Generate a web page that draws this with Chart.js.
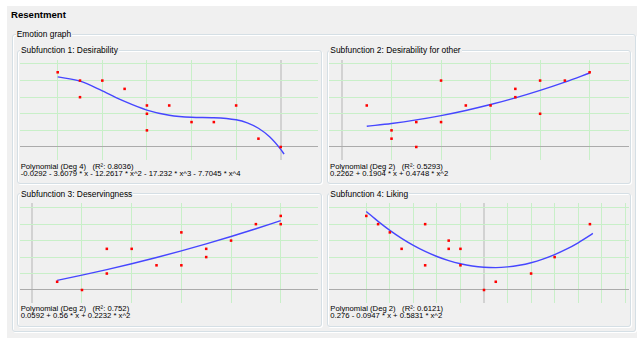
<!DOCTYPE html>
<html>
<head>
<meta charset="utf-8">
<script src="https://cdn.jsdelivr.net/npm/chart.js@4.4.1/dist/chart.umd.min.js"></script>
<style>
  body { margin: 0; background: #fff; width: 637px; height: 338px; overflow: hidden; position: relative; font-family: "Liberation Sans", Arial, sans-serif; color: #000; }
  #form { position: absolute; left: 7px; top: 6px; width: 630px; height: 332px; background: #f0f0f0; }
  .box { position: absolute; box-sizing: border-box; border: 1px solid #d5dfe5; border-radius: 3px; box-shadow: inset 1px 1px 0 #fff, 1px 1px 0 #fff; }
  .cap { position: absolute; background: #f0f0f0; font-size: 8.4px; line-height: 10px; padding: 0 1px; white-space: nowrap; }
  .head { position: absolute; font-size: 9.6px; font-weight: bold; line-height: 12px; white-space: nowrap; }
  .fit { position: absolute; font-size: 7.7px; line-height: 6.8px; white-space: pre; }
  canvas { position: absolute; }
</style>
</head>
<body>
<div id="form"></div>
<div class="head" style="left:11px; top:8.6px;">Resentment</div>

<div class="box" style="left:12px; top:34px; width:624px; height:298px;"></div>
<div class="cap" style="left:15.7px; top:29px;">Emotion graph</div>

<div class="box" style="left:17px; top:50px; width:305px; height:134px;"></div>
<div class="box" style="left:327px; top:50px; width:304px; height:134px;"></div>
<div class="box" style="left:17px; top:193px; width:305px; height:134px;"></div>
<div class="box" style="left:327px; top:193px; width:304px; height:134px;"></div>

<div class="cap" id="t1" style="left:20px; top:45.4px;"></div>
<div class="cap" id="t2" style="left:329.3px; top:45.4px;"></div>
<div class="cap" id="t3" style="left:20px; top:188.8px;"></div>
<div class="cap" id="t4" style="left:329.3px; top:188.8px;"></div>

<canvas id="c1" width="298" height="100" style="left:20px; top:60px;"></canvas>
<canvas id="c2" width="300" height="100" style="left:329px; top:60px;"></canvas>
<canvas id="c3" width="298" height="100" style="left:20px; top:203px;"></canvas>
<canvas id="c4" width="300" height="100" style="left:329px; top:203px;"></canvas>

<div class="fit" id="f1" style="left:20.7px; top:164.4px;"></div>
<div class="fit" id="f2" style="left:330px; top:164.4px;"></div>
<div class="fit" id="f3" style="left:20.7px; top:306.1px;"></div>
<div class="fit" id="f4" style="left:330.3px; top:306.1px;"></div>

<script>
const titles = ['Subfunction 1: Desirability', 'Subfunction 2: Desirability for other', 'Subfunction 3: Deservingness', 'Subfunction 4: Liking'];
const fitLabels = ['Polynomial (Deg 4)   (R\u00b2: 0.8036)', 'Polynomial (Deg 2)   (R\u00b2: 0.5293)', 'Polynomial (Deg 2)   (R\u00b2: 0.752)', 'Polynomial (Deg 2)   (R\u00b2: 0.6121)'];
const formulas = [
  '-0.0292 - 3.6079 * x - 12.2617 * x^2 - 17.232 * x^3 - 7.7045 * x^4',
  '0.2262 + 0.1904 * x + 0.4748 * x^2',
  '0.0592 + 0.56 * x + 0.2232 * x^2',
  '0.276 - 0.0947 * x + 0.5831 * x^2'
];

// subfunction 1: desirability
const desX = [-1, -0.9, -0.9, -0.8, -0.7, -0.6, -0.6, -0.6, -0.5, -0.4, -0.3, -0.2, -0.1, 0];
const desY = [0.9, 0.8, 0.6, 0.8, 0.7, 0.5, 0.4, 0.2, 0.5, 0.3, 0.3, 0.5, 0.1, 0];
const desFitX = [-1, -0.9, -0.8, -0.7, -0.6, -0.5, -0.4, -0.3, -0.2, -0.15, -0.1, -0.05, 0, 0.015];
const desFitY = [0.8445, 0.7929, 0.6766, 0.5489, 0.4449, 0.3818, 0.3577, 0.3525, 0.3275, 0.2904, 0.2254, 0.1227, -0.0292, -0.0862];

// subfunction 2: desirability for other
const othX = [0.1, 0.2, 0.2, 0.3, 0.3, 0.4, 0.4, 0.5, 0.6, 0.7, 0.7, 0.8, 0.8, 0.9, 1];
const othY = [0.5, 0.2, 0.1, 0.3, 0, 0.8, 0.3, 0.5, 0.5, 0.7, 0.6, 0.8, 0.4, 0.8, 0.9];
const othFitX = [0.1, 0.2, 0.3, 0.4, 0.5, 0.6, 0.7, 0.8, 0.9, 1];
const othFitY = [0.25, 0.2833, 0.3261, 0.3783, 0.4401, 0.5114, 0.5921, 0.6824, 0.7822, 0.8914];

// subfunction 3: deservingness
const serX = [0.1, 0.2, 0.3, 0.3, 0.4, 0.5, 0.6, 0.6, 0.7, 0.7, 0.8, 0.9, 1, 1];
const serY = [0.1, 0, 0.5, 0.2, 0.5, 0.3, 0.7, 0.3, 0.5, 0.4, 0.6, 0.8, 0.9, 0.8];
const serFitX = [0.1, 0.2, 0.3, 0.4, 0.5, 0.6, 0.7, 0.8, 0.9, 1];
const serFitY = [0.1174, 0.1801, 0.2473, 0.3189, 0.395, 0.4756, 0.5606, 0.6501, 0.744, 0.8424];

// subfunction 4: liking
const likX = [-1, -0.9, -0.8, -0.7, -0.5, -0.5, -0.3, -0.3, -0.2, -0.2, 0, 0.1, 0.4, 0.6, 0.9];
const likY = [0.9, 0.8, 0.7, 0.5, 0.8, 0.3, 0.6, 0.5, 0.5, 0.3, 0, 0.1, 0.2, 0.4, 0.8];
const likFitX = [-1, -0.9, -0.8, -0.7, -0.6, -0.5, -0.4, -0.3, -0.2, -0.1, 0, 0.1, 0.2, 0.3, 0.4, 0.5, 0.6, 0.7, 0.8, 0.9, 0.925];
const likFitY = [0.9538, 0.8335, 0.7249, 0.628, 0.5427, 0.4691, 0.4072, 0.3569, 0.3183, 0.2913, 0.276, 0.2724, 0.2804, 0.3001, 0.3314, 0.3744, 0.4291, 0.4954, 0.5734, 0.6631, 0.687];

const negTicks = [-1, -0.8, -0.6, -0.4, -0.2, 0];
const posTicks = [0, 0.2, 0.4, 0.6, 0.8, 1];
const wideTicks = [-1, -0.8, -0.6, -0.4, -0.2, 0, 0.2, 0.4, 0.6, 0.8, 1, 1.2];
const yTicks = [0, 0.2, 0.4, 0.6, 0.8, 1];

const GREEN = '#c8efc8';

function gridOpts(zeroColor, zeroWidth) {
  return {
    drawTicks: false,
    color: c => (c.tick && c.tick.value === 0) ? zeroColor : GREEN,
    lineWidth: c => (c.tick && c.tick.value === 0) ? zeroWidth : 1
  };
}

function drawPanel(n, px, py, fx, fy, xTicks, xMin, xMax, yMin, yMax) {
  document.getElementById('t' + n).textContent = titles[n - 1];
  document.getElementById('f' + n).textContent = fitLabels[n - 1] + '\n' + formulas[n - 1];

  new Chart(document.getElementById('c' + n), {
    type: 'scatter',
    data: {
      datasets: [
        {
          data: px.map((x, i) => ({ x: x, y: py[i] })),
          pointStyle: 'rect',
          pointRadius: 1.8,
          backgroundColor: '#ff0000',
          borderWidth: 0,
          order: 1
        },
        {
          data: fx.map((x, i) => ({ x: x, y: fy[i] })),
          showLine: true,
          borderColor: '#4646ff',
          borderWidth: 1.4,
          pointRadius: 0,
          cubicInterpolationMode: 'monotone',
          order: 2
        }
      ]
    },
    options: {
      responsive: false,
      animation: false,
      events: [],
      layout: { padding: 0, autoPadding: false },
      plugins: { legend: { display: false }, tooltip: { enabled: false } },
      scales: {
        x: {
          type: 'linear', min: xMin, max: xMax,
          afterBuildTicks: s => { s.ticks = xTicks.map(v => ({ value: v })); },
          ticks: { display: false },
          border: { display: false },
          grid: gridOpts('#d2d2d2', 2)
        },
        y: {
          type: 'linear', min: yMin, max: yMax,
          afterBuildTicks: s => { s.ticks = yTicks.map(v => ({ value: v })); },
          ticks: { display: false },
          border: { display: false },
          grid: gridOpts('#ababab', 1)
        }
      }
    }
  });
}

drawPanel(1, desX, desY, desFitX, desFitY, negTicks, -1.169, 0.167, -0.157, 1.048);
drawPanel(2, othX, othY, othFitX, othFitY, posTicks, -0.0525, 1.159, -0.157, 1.048);
drawPanel(3, serX, serY, serFitX, serFitY, posTicks, -0.0495, 1.15, -0.158, 1.057);
drawPanel(4, likX, likY, likFitX, likFitY, wideTicks, -1.317, 1.232, -0.158, 1.057);
</script>
</body>
</html>
